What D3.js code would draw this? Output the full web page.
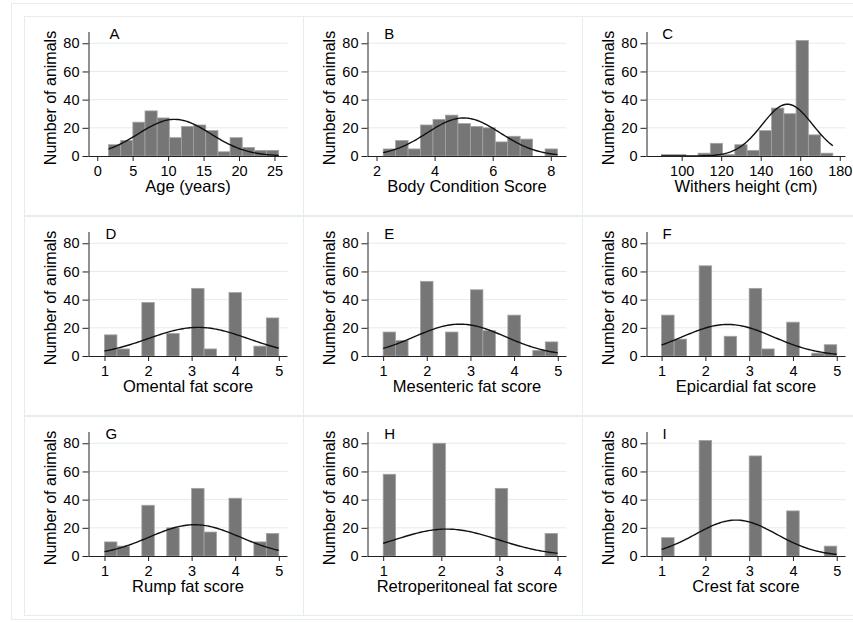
<!doctype html>
<html>
  <head>
    <meta charset="UTF-8">
    <title>Histograms</title>
    <script src="https://d3js.org/d3.v7.min.js"></script>
    <style>
      body { margin: 0; background: #fff; }
      svg text { font-family: "Liberation Sans", Arial, sans-serif; fill: #000; }
      .frame { fill: none; stroke: #e6eded; stroke-width: 1; }
      .grid line { stroke: #e3ecec; stroke-width: 1; }
      .bar { fill: #767676; stroke: #a3a3a3; stroke-width: 0.8; }
      .curve { fill: none; stroke: #111; stroke-width: 1.4; }
      .axis path, .axis line { stroke: #222; }
      .axis text { font-size: 14.5px; }
      .letter { font-size: 15px; }
      .xtitle { font-size: 16.5px; }
      .ytitle { font-size: 16px; }
    </style>
  </head>
  <body>
    <svg id="chart" width="853" height="622"></svg>
    <script>
      // Panel letters and x titles
      const panelIds = ["A", "B", "C", "D", "E", "F", "G", "H", "I"];
      const xTitles = ["Age (years)", "Body Condition Score", "Withers height (cm)",
        "Omental fat score", "Mesenteric fat score", "Epicardial fat score",
        "Rump fat score", "Retroperitoneal fat score", "Crest fat score"];

      // Histogram bins (first edge, bin width) and counts
      const binStarts = [1.6, 2.23, 89.7, 1, 1, 1, 1, 1, 1];
      const binWidths = [1.714, 0.4286, 6.2, 0.2857, 0.2857, 0.2857, 0.2857, 0.2143, 0.2857];
      const countsA = [8, 11, 24, 32, 27, 13, 21, 22, 18, 3, 13, 6, 4, 4];
      const countsB = [5, 11, 5, 22, 26, 29, 23, 21, 20, 10, 14, 12, 0, 5];
      const countsC = [1, 1, 0, 2, 9, 1, 8, 4, 18, 34, 30, 82, 15, 2];
      const countsD = [15, 5, 0, 38, 0, 16, 0, 48, 5, 0, 45, 0, 7, 27];
      const countsE = [17, 11, 0, 53, 0, 17, 0, 47, 18, 0, 29, 0, 4, 10];
      const countsF = [29, 12, 0, 64, 0, 14, 0, 48, 5, 0, 24, 0, 2, 8];
      const countsG = [10, 7, 0, 36, 0, 20, 0, 48, 17, 0, 41, 0, 10, 16];
      const countsH = [58, 0, 0, 0, 80, 0, 0, 0, 0, 48, 0, 0, 0, 16];
      const countsI = [13, 0, 0, 82, 0, 0, 0, 71, 0, 0, 32, 0, 0, 7];
      const counts = [countsA, countsB, countsC, countsD, countsE, countsF, countsG, countsH, countsI];

      // Fitted normal curves: mean, sd, peak height (frequency)
      const normMean = [10.9, 5.0, 153.5, 3.15, 2.76, 2.51, 3.07, 2.09, 2.70];
      const normSd = [5.1, 1.26, 12.8, 1.15, 1.04, 1.04, 1.04, 0.89, 0.925];
      const normPeak = [26, 27, 36.7, 20.3, 22.6, 22.4, 22.2, 19.1, 25.5];

      // Axis ranges and ticks
      const xDomains = [[-1.23, 26.84], [1.69, 8.54], [82.2, 182.9],
        [0.633, 5.2], [0.642, 5.2], [0.655, 5.2], [0.633, 5.2], [0.73, 4.155], [0.655, 5.2]];
      const xTicks = [[0, 5, 10, 15, 20, 25], [2, 4, 6, 8], [100, 120, 140, 160, 180],
        [1, 2, 3, 4, 5], [1, 2, 3, 4, 5], [1, 2, 3, 4, 5], [1, 2, 3, 4, 5], [1, 2, 3, 4], [1, 2, 3, 4, 5]];
      const yTicks = [0, 20, 40, 60, 80];
      const yTitle = "Number of animals";

      const svg = d3.select("#chart");
      const colLefts = [24, 303, 582];
      const rowTops = [16, 216, 416];
      const panelW = 279, panelH = 199;

      // outer frame
      svg.append("rect").attr("class", "frame")
        .attr("x", 11.5).attr("y", 3.5).attr("width", 845).attr("height", 616);

      panelIds.forEach((id, i) => {
        const left = colLefts[i % 3], top = rowTops[Math.floor(i / 3)];
        const g = svg.append("g").attr("transform", `translate(${left},${top})`);

        g.append("rect").attr("class", "frame")
          .attr("x", 0.5).attr("y", 0.5).attr("width", panelW).attr("height", panelH);

        const ax = 64.5;
        const x = d3.scaleLinear().domain(xDomains[i]).range([ax, ax + 199]);
        const y = d3.scaleLinear().domain([0, 88]).range([140, 16]);

        // grid
        g.append("g").attr("class", "grid")
          .selectAll("line").data(yTicks.slice(1)).join("line")
          .attr("x1", ax).attr("x2", ax + 199)
          .attr("y1", d => y(d)).attr("y2", d => y(d));

        // bars
        const bins = counts[i].map((c, k) => ({
          x0: binStarts[i] + k * binWidths[i],
          x1: binStarts[i] + (k + 1) * binWidths[i],
          c
        })).filter(b => b.c > 0);
        g.selectAll(".bar").data(bins).join("rect")
          .attr("class", "bar")
          .attr("x", d => x(d.x0))
          .attr("width", d => x(d.x1) - x(d.x0))
          .attr("y", d => y(d.c))
          .attr("height", d => y(0) - y(d.c));

        // normal curve
        const lo = binStarts[i], hi = binStarts[i] + counts[i].length * binWidths[i];
        const pts = d3.range(0, 101).map(k => {
          const v = lo + (hi - lo) * k / 100;
          const z = (v - normMean[i]) / normSd[i];
          return [v, normPeak[i] * Math.exp(-0.5 * z * z)];
        });
        g.append("path").attr("class", "curve")
          .attr("d", d3.line().x(d => x(d[0])).y(d => y(d[1]))(pts));

        // axes
        const xAxis = g.append("g").attr("class", "axis")
          .attr("transform", `translate(0,${y(0)})`)
          .call(d3.axisBottom(x).tickValues(xTicks[i]).tickFormat(d3.format("d")).tickSize(5).tickSizeOuter(0));
        xAxis.selectAll("text").attr("y", 9).attr("dy", "0.75em");
        xAxis.select(".domain").attr("d", `M${ax},0.5H${ax + 199}`);

        const yAxis = g.append("g").attr("class", "axis")
          .attr("transform", `translate(${ax},0)`)
          .call(d3.axisLeft(y).tickValues(yTicks).tickSize(6).tickSizeOuter(0));
        yAxis.selectAll("text").attr("x", -9);
        yAxis.select(".domain").attr("d", `M0.5,${y(0)}V${y(88)}`);
        g.selectAll(".axis").attr("font-family", null).attr("font-size", null);

        // titles
        g.append("text").attr("class", "xtitle")
          .attr("x", ax + 99.5)
          .attr("y", 176)
          .attr("text-anchor", "middle")
          .text(xTitles[i]);
        g.append("text").attr("class", "ytitle")
          .attr("transform", `translate(32,82) rotate(-90)`)
          .attr("text-anchor", "middle")
          .text(yTitle);

        // panel letter
        g.append("text").attr("class", "letter")
          .attr("x", x(binStarts[i]) + 1)
          .attr("y", 22.5)
          .text(id);
      });
    </script>
  </body>
</html>
